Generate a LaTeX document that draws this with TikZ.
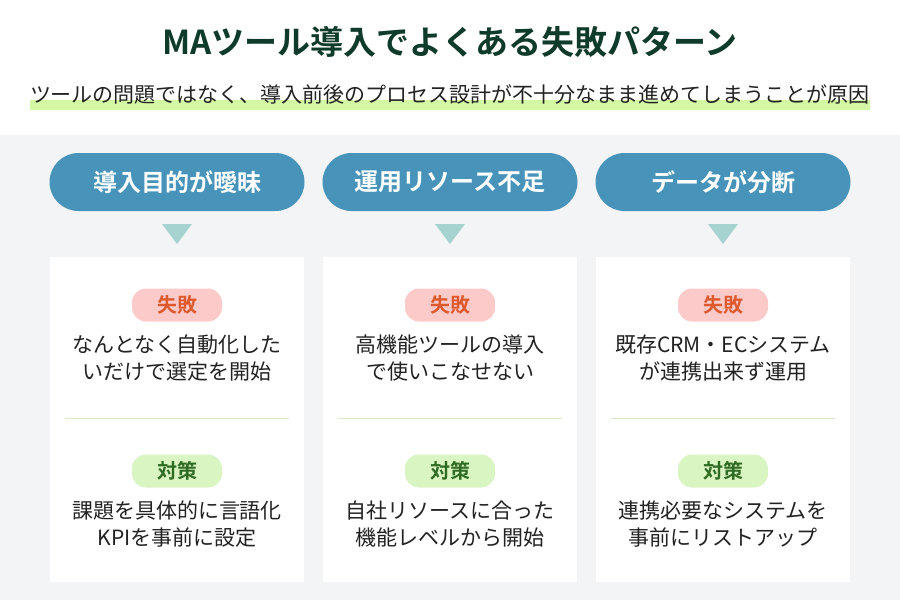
\documentclass[tikz,border=0pt]{standalone}
\usepackage{fontspec}
\setmainfont{Noto Sans CJK JP}
\newfontfamily\jpb{Noto Sans CJK JP Bold}
\definecolor{ttl}{HTML}{0F3B2A}
\definecolor{pill}{HTML}{4793B9}
\definecolor{tri}{HTML}{A6D3CF}
\definecolor{bg}{HTML}{F3F4F6}
\definecolor{hl}{HTML}{D4F7A4}
\definecolor{pinkb}{HTML}{FDCACA}
\definecolor{pinkt}{HTML}{DD5A2E}
\definecolor{grnb}{HTML}{D9F5C2}
\definecolor{grnt}{HTML}{2F6B24}
\definecolor{divc}{HTML}{D6ECC4}
\definecolor{txt}{HTML}{222222}
\begin{document}
\begin{tikzpicture}[x=1pt,y=-1pt,
 pillst/.style={fill=pill,rounded corners=29pt,minimum width=255pt,minimum height=58pt,text=white,font=\jpb\fontsize{24}{28}\selectfont,inner sep=0},
 badge/.style={rounded corners=14pt,minimum width=90pt,minimum height=33pt,inner sep=0,font=\jpb\fontsize{20}{22}\selectfont},
 body/.style={text=txt,align=center,font=\fontsize{21}{27}\selectfont},
 card/.style={fill=white,draw=none}]
\useasboundingbox (0,0) rectangle (900,600);
\fill[white] (0,0) rectangle (900,135);
\fill[bg] (0,135) rectangle (900,600);
\node[text=ttl,font=\jpb\fontsize{33}{36}\selectfont] (title) at (450,42) {MAツール導入でよくある失敗パターン};
\fill[hl] (30,100) rectangle (870,110);
\node[text=txt,font=\fontsize{21}{24}\selectfont,inner sep=0] (sub) at (450,95) {ツールの問題ではなく、導入前後のプロセス設計が不十分なまま進めてしまうことが原因};
\foreach \i/\cx/\h/\fa/\fb/\ta/\tb in {
 1/177/導入目的が曖昧/なんとなく自動化した/いだけで選定を開始/課題を具体的に言語化/KPIを事前に設定,
 2/450/運用リソース不足/高機能ツールの導入/で使いこなせない/自社リソースに合った/機能レベルから開始,
 3/723/データが分断/既存CRM・ECシステム/が連携出来ず運用/連携必要なシステムを/事前にリストアップ}{
 \node[pillst] (p\i) at (\cx,182) {\h};
 \fill[tri] (\cx-15,224) -- (\cx+15,224) -- (\cx,244) -- cycle;
 \fill[white] (\cx-127,257) rectangle (\cx+127,582);
 \node[badge,fill=pinkb,text=pinkt] (f\i) at (\cx,305) {失敗};
 \node[body] (fx\i) at (\cx,358) {\fa\\\fb};
 \draw[divc,line width=1pt] (\cx-112,418) -- (\cx+112,418);
 \node[badge,fill=grnb,text=grnt] (t\i) at (\cx,471) {対策};
 \node[body] (tx\i) at (\cx,524) {\ta\\\tb};
}
\end{tikzpicture}
\end{document}
